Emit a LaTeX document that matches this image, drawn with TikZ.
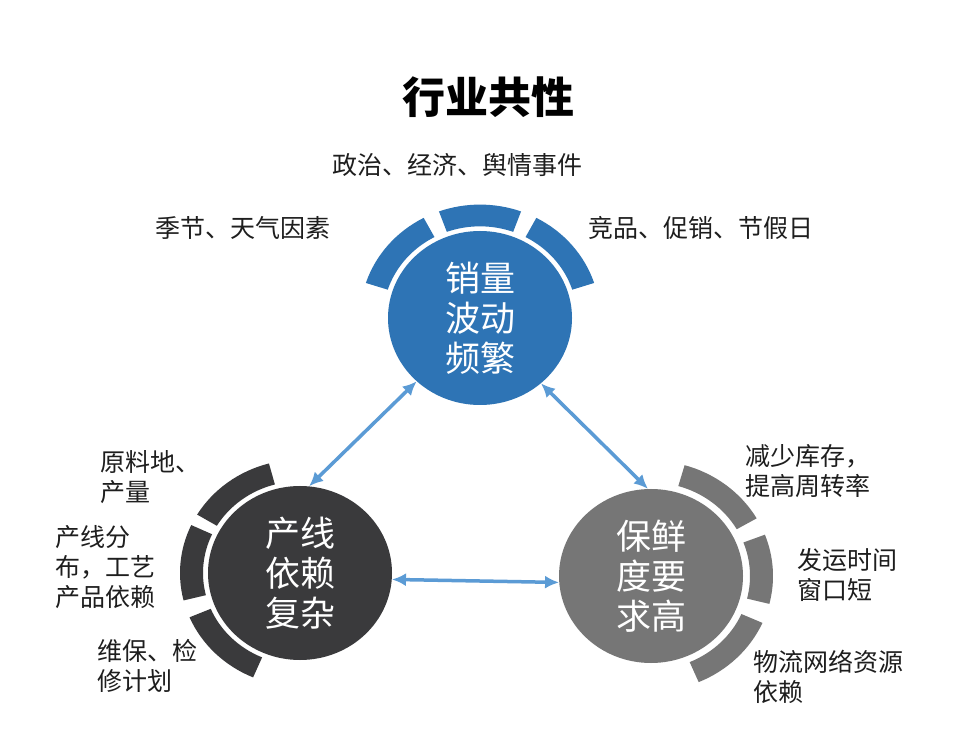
\documentclass[tikz,border=0pt]{standalone}
\usepackage{fontspec}
\newfontfamily\cjk{Noto Sans CJK SC}
\usetikzlibrary{shapes.geometric,arrows.meta}

\definecolor{xlblue}{HTML}{2E74B5}
\definecolor{cxdark}{HTML}{3A3A3C}
\definecolor{bxgray}{HTML}{767676}
\definecolor{jtblue}{HTML}{5B9BD5}
\definecolor{wzblack}{HTML}{1E1E1E}

\begin{document}
\begin{tikzpicture}[
x=1pt, y=1pt,
every node/.style={
inner sep=0pt,
text=wzblack,
font=\cjk
},
hub/.style={
ellipse,
minimum width=184pt,
minimum height=174pt,
text=white,
align=center,
font=\cjk\fontsize{35}{40}\selectfont
},
tagtext/.style={
anchor=west,
align=left,
font=\cjk\fontsize{25}{30}\selectfont
},
link/.style={
{Latex[length=14pt,width=13pt]}-{Latex[length=14pt,width=13pt]},
jtblue,
line width=3.5pt
}
]

\fill[white] (0,0) rectangle (963,755);
\useasboundingbox (0,0) rectangle (963,755);

\node[font=\cjk\bfseries\fontsize{43}{48}\selectfont, text=black] (title) at (488,658)
{行业共性};

% three hubs
\node[hub, fill=xlblue] (XL) at (480,437)
{销量\\波动\\频繁};

\node[hub, fill=cxdark] (CX) at (300,182)
{产线\\依赖\\复杂};

\node[hub, fill=bxgray] (BX) at (651,179)
{保鲜\\度要\\求高};

% ring segments
\foreach \a/\b in {118/162, 70/110, 18/62}
\fill[xlblue, shift={(XL.center)}, yscale=0.945] (\a:97) arc[start angle=\a, end angle=\b, radius=97]
-- (\b:120) arc[start angle=\b, end angle=\a, radius=120] -- cycle;

\foreach \a/\b in {105/149, 155/194, 203/247}
\fill[cxdark, shift={(CX.center)}, yscale=0.945] (\a:97) arc[start angle=\a, end angle=\b, radius=97]
-- (\b:120) arc[start angle=\b, end angle=\a, radius=120] -- cycle;

\foreach \a/\b in {30/74, -14/21, -67/-24}
\fill[bxgray, shift={(BX.center)}, yscale=0.945] (\a:99) arc[start angle=\a, end angle=\b, radius=99]
-- (\b:122) arc[start angle=\b, end angle=\a, radius=122] -- cycle;

% labels
\node[tagtext] (L1) at (155,527)
{季节、天气因素};

\node[tagtext, anchor=center] (L2) at (457,590)
{政治、经济、舆情事件};

\node[tagtext] (L3) at (588,527)
{竞品、促销、节假日};

\node[tagtext] (L4) at (100,278)
{原料地、\\产量};

\node[tagtext] (L5) at (55,188)
{产线分\\布，工艺\\产品依赖};

\node[tagtext] (L6) at (97,89)
{维保、检\\修计划};

\node[tagtext] (L7) at (745,284)
{减少库存，\\提高周转率};

\node[tagtext] (L8) at (797,180)
{发运时间\\窗口短};

\node[tagtext] (L9) at (753,78)
{物流网络资源\\依赖};

% links
\draw[link] (XL.225) -- (CX.84);
\draw[link] (XL.313) -- (BX.92);
\draw[link] (CX.-4) -- (BX.184);

\end{tikzpicture}
\end{document}
